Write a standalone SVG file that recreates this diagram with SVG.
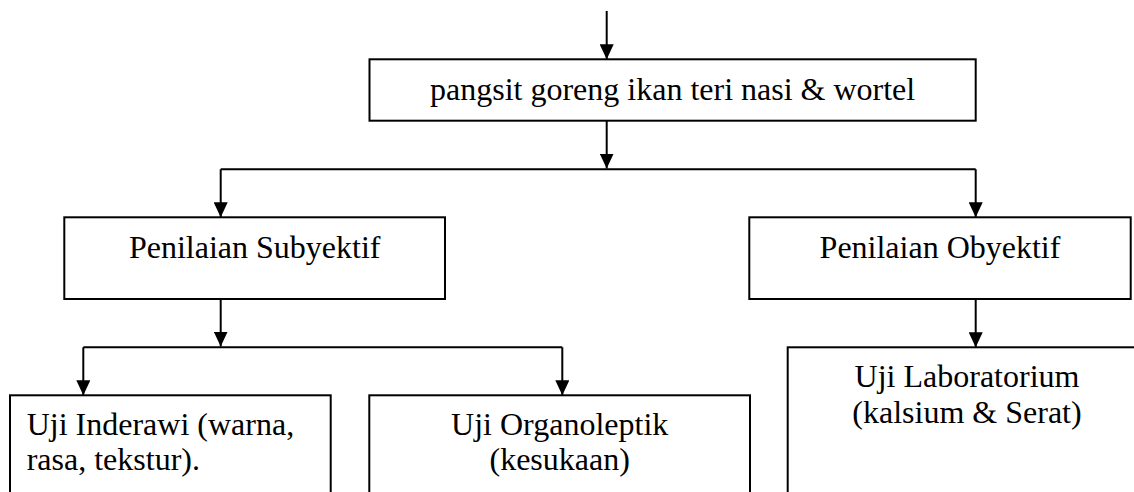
<svg xmlns="http://www.w3.org/2000/svg" width="1134" height="492" viewBox="0 0 1134 492">
<style>
.box{fill:#fff;stroke:#000;stroke-width:2}
.t{font-family:"Liberation Serif","Times New Roman",serif;font-size:32px;fill:#000}
.c{text-anchor:middle}
.ln{fill:none;stroke:#000;stroke-width:2}
</style>
<defs>
<marker id="ah" viewBox="0 0 15 14" refX="15" refY="7" markerWidth="15" markerHeight="14" markerUnits="userSpaceOnUse" orient="auto">
<path d="M0 0 L15 7 L0 14 Z" fill="#000"/>
</marker>
</defs>
<rect width="1134" height="492" fill="#fff"/>
<g id="connectors">
<path class="ln" d="M606.7 11 V59.3" marker-end="url(#ah)"/>
<path class="ln" d="M606.7 120.7 V168.5" marker-end="url(#ah)"/>
<path class="ln" d="M220.7 169.3 H975.7"/>
<path class="ln" d="M220.7 169.3 V217.3" marker-end="url(#ah)"/>
<path class="ln" d="M975.7 169.3 V217.3" marker-end="url(#ah)"/>
<path class="ln" d="M220.7 299 V346.5" marker-end="url(#ah)"/>
<path class="ln" d="M83.3 347.3 H562.3"/>
<path class="ln" d="M83.3 347.3 V395.3" marker-end="url(#ah)"/>
<path class="ln" d="M562.3 347.3 V395.3" marker-end="url(#ah)"/>
<path class="ln" d="M975.7 299 V347.3" marker-end="url(#ah)"/>
</g>
<g id="node-top">
<rect class="box" x="369.5" y="59.3" width="606.2" height="61.4"/>
<text class="t c" x="672.6" y="100">pangsit goreng ikan teri nasi &amp; wortel</text>
</g>
<g id="node-subyektif">
<rect class="box" x="64.3" y="217.3" width="380.7" height="81.7"/>
<text class="t c" x="254.7" y="257.7">Penilaian Subyektif</text>
</g>
<g id="node-obyektif">
<rect class="box" x="749.3" y="217.3" width="381.4" height="81.7"/>
<text class="t c" x="940" y="257.5">Penilaian Obyektif</text>
</g>
<g id="node-inderawi">
<rect class="box" x="10" y="395.3" width="320.7" height="110"/>
<text class="t" x="26.7" y="435">Uji Inderawi (warna,</text>
<text class="t" x="26.7" y="470">rasa, tekstur).</text>
</g>
<g id="node-organoleptik">
<rect class="box" x="369.3" y="395.3" width="380.7" height="110"/>
<text class="t c" x="559.7" y="435">Uji Organoleptik</text>
<text class="t c" x="559.7" y="470">(kesukaan)</text>
</g>
<g id="node-laboratorium">
<rect class="box" x="787.7" y="347.3" width="400" height="160"/>
<text class="t c" x="967" y="386.7">Uji Laboratorium</text>
<text class="t c" x="967" y="423">(kalsium &amp; Serat)</text>
</g>
</svg>
